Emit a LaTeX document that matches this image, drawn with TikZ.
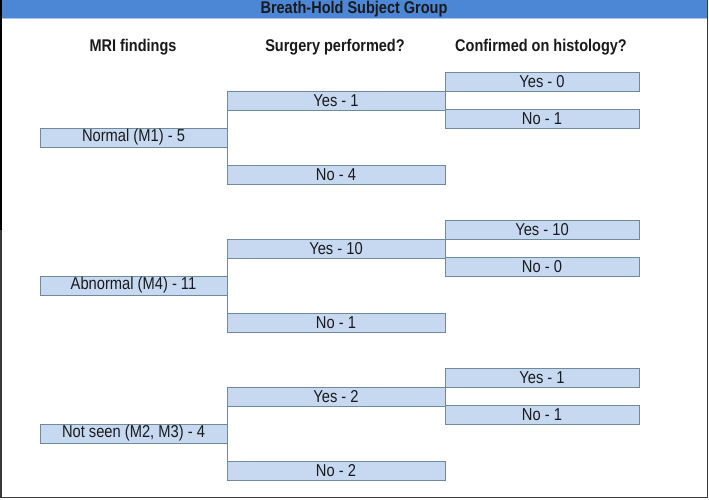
\documentclass[tikz,border=0pt]{standalone}
\usepackage{fontspec}
\usepackage{graphicx}
\setmainfont{Liberation Sans}
\definecolor{boxfill}{HTML}{C6D9F1}
\definecolor{boxline}{HTML}{6F8A9C}
\definecolor{headblue}{HTML}{4C87D6}
\definecolor{headline}{HTML}{A9C6EC}
\definecolor{frame}{HTML}{3A3A3C}
\definecolor{txt}{HTML}{1A1A1A}
\newcommand{\vstretch}[1]{\scalebox{1}[1.17]{#1}}
\tikzset{
  box/.style={draw=boxline, fill=boxfill, line width=1pt, anchor=north west,
    inner sep=0pt, outer sep=0pt, minimum height=19pt, text=txt,
    font=\fontsize{14.7}{16}\selectfont},
  mbox/.style={box, minimum width=187pt},
  sbox/.style={box, minimum width=218pt},
  hbox/.style={box, minimum width=194pt},
  conn/.style={draw=boxline, line width=1pt},
  colhead/.style={font=\bfseries\fontsize{14.5}{16}\selectfont, text=txt, inner sep=0pt},
}
\begin{document}
\begin{tikzpicture}[x=1pt,y=-1pt]
\useasboundingbox (0,0) rectangle (709,499);
\fill[white] (0,0) rectangle (709,499);
% header band
\fill[headblue] (0,0) rectangle (707.5,17.5);
\draw[headline, line width=1pt] (1.5,18) -- (706.5,18);
\node[colhead] (title) at (354,9) {\vstretch{Breath-Hold Subject Group}};
% frame
\draw[frame, line width=1.5pt] (0.75,230) -- (0.75,497.5) -- (707.5,497.5) -- (707.5,0);
\draw[black, line width=1.5pt] (0.75,0) -- (0.75,230);
% column heads
\node[colhead] (h1) at (133,47) {\vstretch{MRI findings}};
\node[colhead] (h2) at (335,47) {\vstretch{Surgery performed?}};
\node[colhead] (h3) at (541,47) {\vstretch{Confirmed on histology?}};
% group 1
\node[mbox] (m1) at (40,128) {\vstretch{Normal (M1) - 5}};
\node[sbox] (s1y) at (227,91) {\vstretch{Yes - 1}};
\node[sbox] (s1n) at (227,165) {\vstretch{No - 4}};
\node[hbox] (h1y) at (445,72) {\vstretch{Yes - 0}};
\node[hbox] (h1n) at (445,109) {\vstretch{No - 1}};
% group 2
\node[mbox] (m2) at (40,276) {\vstretch{Abnormal (M4) - 11}};
\node[sbox] (s2y) at (227,239) {\vstretch{Yes - 10}};
\node[sbox] (s2n) at (227,313) {\vstretch{No - 1}};
\node[hbox] (h2y) at (445,220) {\vstretch{Yes - 10}};
\node[hbox] (h2n) at (445,257) {\vstretch{No - 0}};
% group 3
\node[mbox] (m3) at (40,424) {\vstretch{Not seen (M2, M3) - 4}};
\node[sbox] (s3y) at (227,387) {\vstretch{Yes - 2}};
\node[sbox] (s3n) at (227,461) {\vstretch{No - 2}};
\node[hbox] (h3y) at (445,368) {\vstretch{Yes - 1}};
\node[hbox] (h3n) at (445,405) {\vstretch{No - 1}};
% connectors
\foreach \g in {1,2,3}{
  \draw[conn] (s\g y.south west) -- (s\g n.north west);
  \draw[conn] (h\g y.south west) -- (h\g n.north west);
}
\end{tikzpicture}
\end{document}
